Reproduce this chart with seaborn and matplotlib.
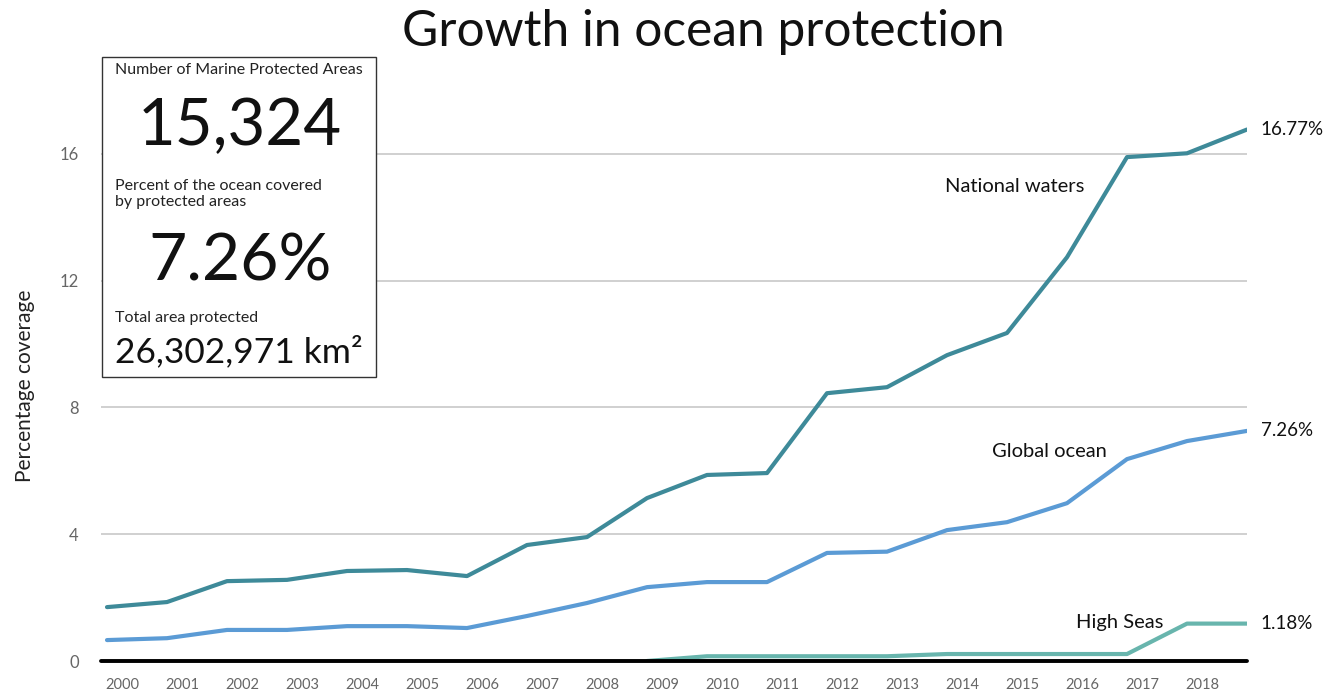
import numpy as np
import pandas as pd
import matplotlib
matplotlib.use("Agg")
import matplotlib.pyplot as plt
import seaborn as sns

years = list(range(2000, 2020))
tick_years = list(range(2000, 2019))
national_waters = [1.70, 1.86, 2.52, 2.56, 2.84, 2.87, 2.68, 3.66, 3.91, 5.14,
                   5.87, 5.93, 8.45, 8.64, 9.65, 10.35, 12.74, 15.90, 16.02, 16.77]
global_ocean = [0.66, 0.72, 0.98, 0.98, 1.10, 1.10, 1.04, 1.42, 1.83, 2.33,
                2.49, 2.49, 3.41, 3.45, 4.13, 4.38, 4.98, 6.37, 6.94, 7.26]
high_seas = [None, None, None, None, None, None, None, None, None, 0.0,
             0.15, 0.15, 0.15, 0.15, 0.22, 0.22, 0.22, 0.22, 1.18, 1.18]
series_names = ["National waters", "Global ocean", "High Seas"]
end_labels = ["16.77%", "7.26%", "1.18%"]
y_ticks = [0, 4, 8, 12, 16]

colors = {"National waters": "#3e8a99", "Global ocean": "#5b9bd5", "High Seas": "#68b5ad"}

sns.set_theme(style="white")
plt.rcParams['font.family'] = ['Lato', 'DejaVu Sans']

df = pd.DataFrame({
    "year": years * 3,
    "value": national_waters + global_ocean + high_seas,
    "series": [series_names[0]] * 20 + [series_names[1]] * 20 + [series_names[2]] * 20,
})
df["value"] = pd.to_numeric(df["value"])
df = df.dropna()

W, H = 1324, 697
fig = plt.figure(figsize=(W / 100, H / 100), dpi=100)
ax = fig.add_axes([101 / W, 36 / H, (1247 - 101) / W, (661 - 43) / H])

ax.set_xlim(1999.9, 2019)
ax.set_ylim(0, 19.5)

for y in y_ticks[1:]:
    ax.axhline(y, color="#c8c8c8", lw=1.2, zorder=1)

sns.lineplot(data=df, x="year", y="value", hue="series", palette=colors,
             linewidth=3.0, ax=ax, legend=False, zorder=3)

ax.axhline(0, color="black", lw=2.8, zorder=4, clip_on=False)

for s in ax.spines.values():
    s.set_visible(False)

ax.set_xticks([y + 0.25 for y in tick_years])
ax.set_xticklabels([str(y) for y in tick_years], fontsize=10.5, color="#666666")
ax.set_yticks(y_ticks)
ax.set_yticklabels([str(v) for v in y_ticks], fontsize=12, color="#666666")
ax.tick_params(axis="x", length=0, pad=12)
ax.tick_params(axis="y", length=0, pad=16)
ax.set_xlabel("")
ax.set_ylabel("Percentage coverage", fontsize=15, color="#222222")
ax.yaxis.set_label_coords(-0.058, 0.446)

# end value labels
last_vals = [national_waters[-1], global_ocean[-1], high_seas[-1]]
for lab, v in zip(end_labels, last_vals):
    ax.annotate(lab, xy=(years[-1], v), xytext=(10, 0), textcoords="offset points",
                ha="left", va="center", fontsize=13.5, color="#111111", annotation_clip=False)

# series name labels
ax.text(2015.13, 14.98, "National waters", fontsize=14.5, color="#111111", ha="center", va="center")
ax.text(2015.7, 6.6, "Global ocean", fontsize=14.5, color="#111111", ha="center", va="center")
ax.text(2016.88, 1.2, "High Seas", fontsize=14.5, color="#111111", ha="center", va="center")

# title
fig.text(703 / W, 1 - 32 / H, "Growth in ocean protection", fontsize=35.7,
         ha="center", va="center", color="#111111")

# info box
box = plt.Rectangle((102 / W, 1 - 377 / H), (376 - 102) / W, (377 - 57) / H,
                    transform=fig.transFigure, facecolor="white", edgecolor="#333333",
                    lw=1.0, zorder=10)
fig.patches.append(box)
fig.text(115 / W, 1 - 70 / H, "Number of Marine Protected Areas", fontsize=11.5,
         ha="left", va="center", color="#222222", zorder=11)
fig.text(240 / W, 1 - 127 / H, "15,324", fontsize=47, ha="center", va="center",
         color="#111111", zorder=11)
fig.text(115 / W, 1 - 194 / H, "Percent of the ocean covered\nby protected areas",
         fontsize=11.5, ha="left", va="center", color="#222222", linespacing=1.1, zorder=11)
fig.text(240 / W, 1 - 262 / H, "7.26%", fontsize=47.5, ha="center", va="center",
         color="#111111", zorder=11)
fig.text(115 / W, 1 - 318 / H, "Total area protected", fontsize=11.5,
         ha="left", va="center", color="#222222", zorder=11)
fig.text(115 / W, 1 - 352 / H, "26,302,971 km²", fontsize=25.5, ha="left", va="center",
         color="#111111", zorder=11)

fig.savefig("out.png", dpi=100)
